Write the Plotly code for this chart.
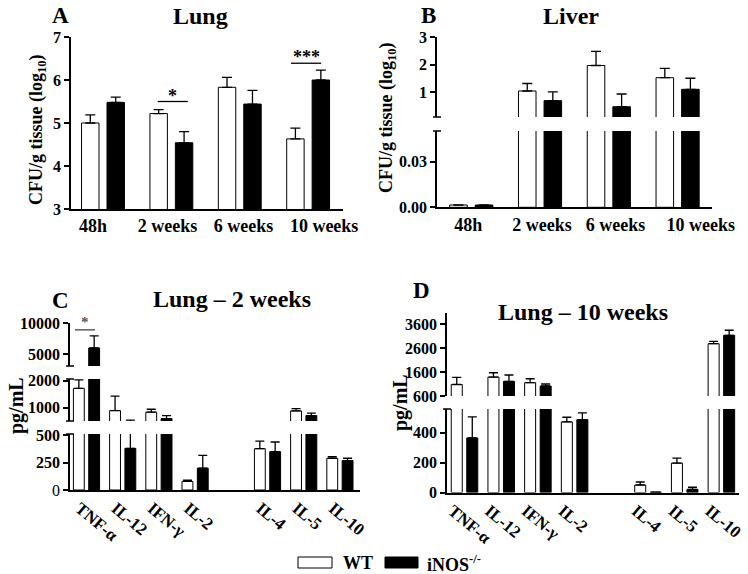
import plotly.graph_objects as go

W, H = 748, 574

# ---------------- data ----------------
timepoints = ["48h", "2 weeks", "6 weeks", "10 weeks"]

# Panel A - Lung CFU/g tissue (log10)
lung_wt = [5.00, 5.22, 5.83, 4.63]
lung_wt_top = [5.19, 5.31, 6.06, 4.88]
lung_ko = [5.48, 4.54, 5.44, 6.00]
lung_ko_top = [5.60, 4.80, 5.76, 6.23]

# Panel B - Liver CFU/g tissue (log10)
liver_wt = [0.0015, 1.05, 1.97, 1.53]
liver_wt_top = [0.0015, 1.32, 2.48, 1.87]
liver_ko = [0.0015, 0.70, 0.48, 1.11]
liver_ko_top = [0.0015, 1.02, 0.94, 1.51]

cytokines = ["TNF-α", "IL-12", "IFN-γ", "IL-2", "IL-4", "IL-5", "IL-10"]

# Panel C - Lung 2 weeks (pg/mL)
c_wt = [1720, 890, 830, 78, 376, 878, 289]
c_wt_top = [2040, 1430, 940, 90, 446, 963, 304]
c_ko = [6000, 379, 590, 199, 349, 704, 268]
c_ko_top = [7950, 530, 700, 316, 437, 793, 289]

# Panel D - Lung 10 weeks (pg/mL)
d_wt = [1080, 1390, 1155, 471, 50, 196, 2780]
d_wt_top = [1380, 1570, 1320, 502, 70, 229, 2880]
d_ko = [364, 1210, 1017, 486, 3, 21, 3130]
d_ko_top = [505, 1475, 1100, 531, 3, 35, 3340]

FONT = "Liberation Serif"


def X(p):
    return p / W


def Y(p):
    return 1 - p / H


def bar(xv, vals, tops, xa, ya, color, offset, width, cap):
    return go.Bar(
        x=xv, y=vals, xaxis=xa, yaxis=ya, offset=offset, width=width,
        marker=dict(color=color, line=dict(color="black", width=1)),
        error_y=dict(type="data", symmetric=False,
                     array=[t - v for t, v in zip(tops, vals)],
                     arrayminus=[0] * len(vals), color="black",
                     thickness=1.3, width=cap),
        showlegend=False, hoverinfo="skip")


fig = go.Figure()

# positions (index-based, with an empty slot between Th1 and Th2 cytokines)
tp_x = list(range(len(timepoints)))
cy_x = [i if i < 4 else i + 1 for i in range(len(cytokines))]
# label positions used in the original layout (labels not exactly centred under bars)
tpA_lab = [-0.146, 0.944, 2.056, 3.234]
tpB_lab = [-0.044, 1.027, 2.097, 3.335]

wA, gA = 0.255, 0.117
wC, gC = 0.30, 0.123

# Panel A
fig.add_trace(bar(tp_x, lung_wt, lung_wt_top, "x", "y", "white", -wA - gA / 2, wA, 5))
fig.add_trace(bar(tp_x, lung_ko, lung_ko_top, "x", "y", "black", gA / 2, wA, 5))

# Panel B (broken axis: y2 upper, y3 lower)
for ya in ["y2", "y3"]:
    fig.add_trace(bar(tp_x, liver_wt, liver_wt_top, "x2", ya, "white", -wA - gA / 2, wA, 5))
    fig.add_trace(bar(tp_x, liver_ko, liver_ko_top, "x2", ya, "black", gA / 2, wA, 5))

# Panel C (y4 lower, y5 middle, y6 upper)
for ya in ["y4", "y5", "y6"]:
    fig.add_trace(bar(cy_x, c_wt, c_wt_top, "x3", ya, "white", -wC - gC / 2, wC, 4.5))
    fig.add_trace(bar(cy_x, c_ko, c_ko_top, "x3", ya, "black", gC / 2, wC, 4.5))

# Panel D (y7 lower, y8 upper)
for ya in ["y7", "y8"]:
    fig.add_trace(bar(cy_x, d_wt, d_wt_top, "x4", ya, "white", -wC - gC / 2, wC, 4.5))
    fig.add_trace(bar(cy_x, d_ko, d_ko_top, "x4", ya, "black", gC / 2, wC, 4.5))

TICKFONT = dict(family=FONT, size=16, color="black", weight="bold")


def yax(dom, rng, tv, tt, anchor):
    return dict(domain=[Y(dom[1]), Y(dom[0])], range=rng, anchor=anchor,
                showline=True, linecolor="black", linewidth=1.5,
                ticks="outside", ticklen=5, tickwidth=1.5, tickcolor="black",
                tickvals=tv, ticktext=tt, tickfont=TICKFONT,
                showgrid=False, zeroline=False, fixedrange=True)


def xax(dom, rng, tv, tt, anchor, angle=0, size=18, shift=0, standoff=0):
    return dict(domain=[X(dom[0]), X(dom[1])], range=rng, anchor=anchor,
                showline=True, linecolor="black", linewidth=1.5, ticks="",
                tickvals=tv, ticktext=tt, tickangle=angle,
                tickfont=dict(family=FONT, size=size, color="black", weight="bold"),
                ticklabelshift=shift, ticklabelstandoff=standoff,
                showgrid=False, zeroline=False, fixedrange=True)


fig.update_layout(
    width=W, height=H, autosize=False,
    margin=dict(l=0, r=0, t=0, b=0),
    paper_bgcolor="white", plot_bgcolor="white",
    barmode="overlay", template="none",
    xaxis=xax([71, 343], [-0.468, 3.51], tpA_lab, timepoints, "y"),
    yaxis=yax([37, 209], [3, 7], [3, 4, 5, 6, 7], ["3", "4", "5", "6", "7"], "x"),
    xaxis2=xax([437, 712], [-0.498, 3.5], tpB_lab, timepoints, "y3"),
    yaxis2=yax([37, 117], [0.11, 3], [1, 2, 3], ["1", "2", "3"], "x2"),
    yaxis3=yax([131, 207.3], [0, 0.05], [0, 0.03], ["0.00", "0.03"], "x2"),
    xaxis3=xax([70, 360], [-0.456, 7.555], cy_x, cytokines, "y4", angle=40, size=17, shift=-7, standoff=0),
    yaxis4=yax([434, 490], [0, 510], [0, 250, 500], ["<span style='font-weight:normal'>0</span>", "250", "500"], "x3"),
    yaxis5=yax([379, 421], [500, 2070], [1000, 2000], ["1000", "2000"], "x3"),
    yaxis6=yax([323, 366], [3100, 10000], [5000, 10000], ["5000", "10000"], "x3"),
    xaxis4=xax([447, 739], [-0.477, 7.48], cy_x, cytokines, "y7", angle=40, size=17, shift=-12, standoff=0),
    yaxis7=yax([409, 492.5], [0, 557], [0, 200, 400], ["0", "200", "400"], "x4"),
    yaxis8=yax([313, 396], [600, 4060], [600, 1600, 2600, 3600], ["600", "1600", "2600", "3600"], "x4"),
)

shapes = []
# axis-break caps
for (xc, yc) in [(437, 117), (437, 131), (70, 366), (70, 379), (70, 421), (70, 434), (447, 409)]:
    shapes.append(dict(type="line", xref="paper", yref="paper",
                       x0=X(xc - 4), x1=X(xc + 4), y0=Y(yc), y1=Y(yc),
                       line=dict(color="black", width=1.5)))
# significance lines
shapes.append(dict(type="line", xref="x", yref="y", x0=0.80, x1=1.24, y0=5.50, y1=5.50,
                   line=dict(color="black", width=1.3)))
shapes.append(dict(type="line", xref="x", yref="y", x0=2.75, x1=3.19, y0=6.39, y1=6.39,
                   line=dict(color="black", width=1.3)))
shapes.append(dict(type="line", xref="x3", yref="y6", x0=-0.32, x1=0.235, y0=8900, y1=8900,
                   line=dict(color="#444444", width=1.3)))
# legend boxes
shapes.append(dict(type="rect", xref="paper", yref="paper", x0=X(298), x1=X(332),
                   y0=Y(568), y1=Y(557), fillcolor="white", line=dict(color="black", width=1)))
shapes.append(dict(type="rect", xref="paper", yref="paper", x0=X(385), x1=X(418),
                   y0=Y(568), y1=Y(557), fillcolor="black", line=dict(color="black", width=1)))
fig.update_layout(shapes=shapes)


def ann(text, x, y, size, angle=0, xanchor="center", color="black", xref="paper", yref="paper", yanchor="middle"):
    fig.add_annotation(text=text, x=X(x) if xref == "paper" else x,
                       y=Y(y) if yref == "paper" else y,
                       xref=xref, yref=yref, showarrow=False, textangle=angle,
                       xanchor=xanchor, yanchor=yanchor,
                       font=dict(family=FONT, size=size, color=color, weight="bold"))


ann("A", 60, 15, 23)
ann("Lung", 200, 16, 24)
ann("B", 429, 15, 23)
ann("Liver", 571, 16, 24)
ann("C", 60, 300, 23)
ann("Lung – 2 weeks", 232, 299, 24)
ann("D", 421, 290, 23)
ann("Lung – 10 weeks", 583, 312, 24)

ann("CFU/g tissue (log<sub>10</sub>)", 37, 130, 18, angle=-90)
ann("CFU/g tissue (log<sub>10</sub>)", 387, 117, 18, angle=-90)
ann("pg/mL", 16, 405, 20, angle=-90)
ann("pg/mL", 400, 403, 20, angle=-90)

# significance stars
ann("*", 1.02, 5.36, 18, xref="x", yref="y", yanchor="bottom")
ann("***", 2.97, 6.25, 18, xref="x", yref="y", yanchor="bottom")
ann("*", -0.04, 8500, 15, xref="x3", yref="y6", yanchor="bottom", color="#555555")

# legend text
ann("WT", 341, 563, 18, xanchor="left")
ann("iNOS<sup>-/-</sup>", 425, 563, 18, xanchor="left")

fig.write_html("out.html", config={"displayModeBar": False},
               post_script="document.body.style.margin='0';")
